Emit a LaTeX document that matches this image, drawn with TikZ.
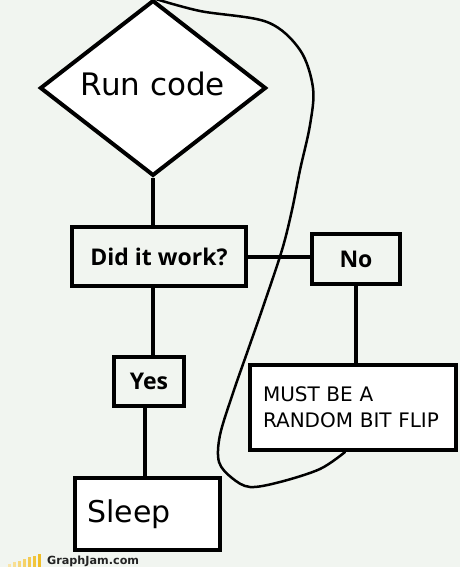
\documentclass[tikz,border=0pt]{standalone}
\usepackage{fontspec}
\setmainfont{DejaVu Sans}
\newfontfamily\boldfont{Open Sans}
\definecolor{jambg}{RGB}{241,245,240}
\definecolor{jamgold}{RGB}{240,190,40}
\definecolor{jamtext}{RGB}{35,35,35}
\usetikzlibrary{shapes.geometric}

\begin{document}
\begin{tikzpicture}[x=1pt, y=-1pt,
  dbox/.style={diamond, draw=black, line width=4pt, fill=white,
               minimum width=226pt, minimum height=160pt, inner sep=0pt,
               font=\fontsize{31}{36}\selectfont},
  qbox/.style={rectangle, draw=black, line width=4.5pt, fill=jambg, inner sep=0pt,
               font=\boldfont\bfseries\fontsize{23}{27}\selectfont},
  tbox/.style={rectangle, draw=black, line width=4pt, fill=white, align=left,
               inner xsep=13pt, inner ysep=0pt},
  larr/.style={line width=4pt},
  lloop/.style={line width=2.5pt, line join=round, line cap=round}
]
\useasboundingbox[fill=jambg] (0,0) rectangle (460,567);

% Start node
\node[dbox] (run) at (153,88) {\raisebox{8pt}{Run code}};

% Question and answers
\node[qbox, minimum width=174pt, minimum height=59pt] (work) at (159,256.5) {Did it work?};
\node[qbox, minimum width=88pt,  minimum height=50pt] (no)   at (356,259)   {No};
\node[qbox, minimum width=70pt,  minimum height=49pt] (yes)  at (149,381.5) {Yes};

% End nodes
\node[tbox, text width=180pt, minimum height=85pt,
      font=\fontsize{20}{26}\selectfont] (flip) at (353,407.5) {MUST BE A\\RANDOM BIT FLIP};
\node[tbox, text width=119pt, minimum height=72pt,
      font=\fontsize{30}{34}\selectfont] (sleep) at (147,514) {\raisebox{-4pt}{Sleep}};

% Lines
\draw[larr] (run.south) -- (run.south |- work.north);
\draw[larr] (work.east) -- (work.east -| no.west);
\draw[larr] (no.south) -- (no.south |- flip.north);
\draw[larr] (run.south |- work.south) -- (run.south |- yes.north);
\draw[larr] ([xshift=-4pt]yes.south) -- ([xshift=-4pt]yes.south |- sleep.north);

% Back to the start
\draw[lloop] plot[smooth, tension=0.55] coordinates {
  ([xshift=-8pt]flip.south) (320,469) (280,482) (250,487) (232,478) (219,462)
  (220,435) (233,393) (248,350) (263,307) (282,250) (292,210) (300,170)
  (310,125) (313,88) (300,50) (267,22) (200,11) (run.north)};

% Logo
\foreach \i in {0,...,6}
  \fill[jamgold!\the\numexpr 40+10*\i\relax] (8+5*\i,567) rectangle ++(3,-3-1.7*\i);
\node[anchor=west, inner sep=0pt, text=jamtext,
      font=\bfseries\fontsize{11.2}{13}\selectfont] (logo) at (47,561) {GraphJam.com};
\end{tikzpicture}
\end{document}
